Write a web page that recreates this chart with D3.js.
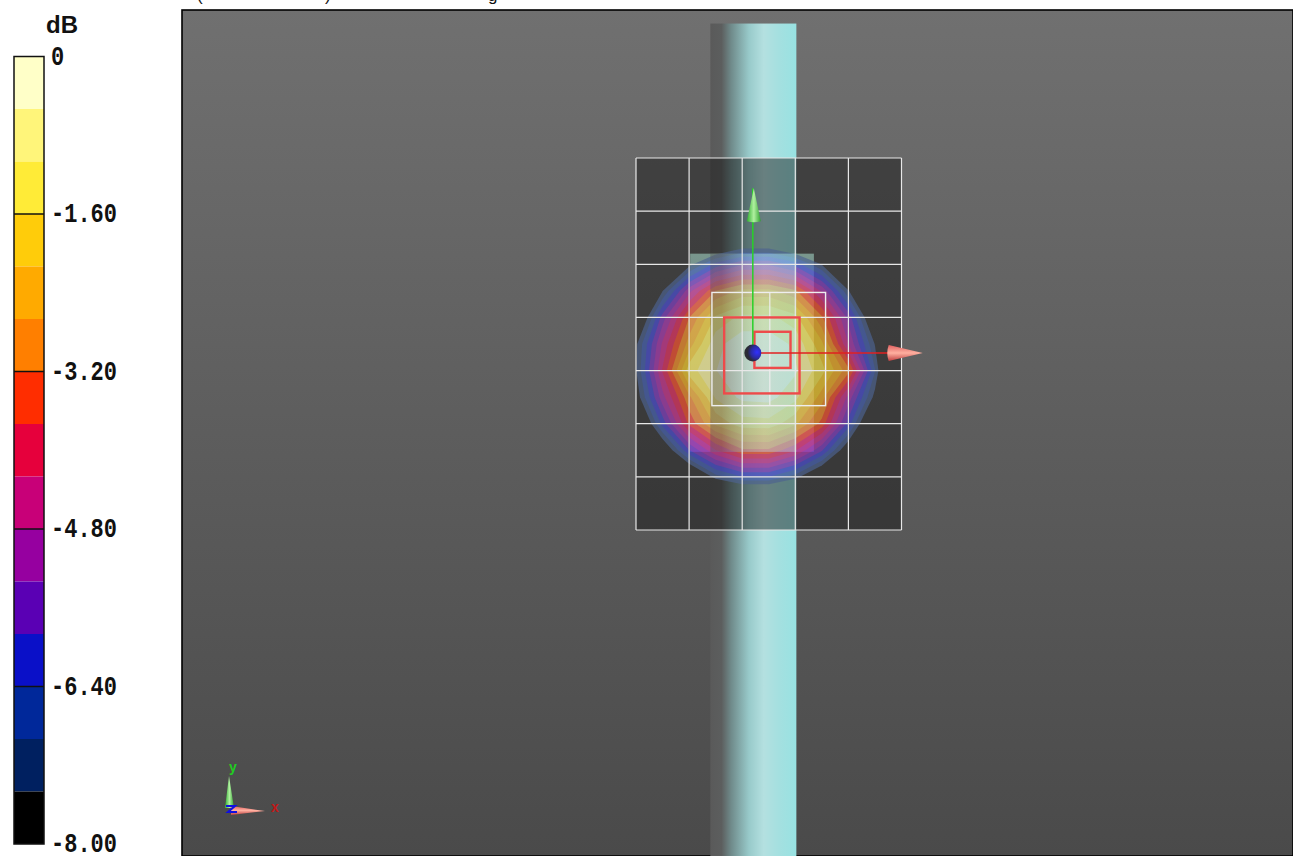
<!DOCTYPE html>
<html>
<head>
<meta charset="utf-8">
<script src="https://cdn.jsdelivr.net/npm/d3@7"></script>
<style>
  html, body { margin: 0; padding: 0; background: #fff; overflow: hidden; }
</style>
</head>
<body>
<div id="chart"></div>
<script>
// colour bar
const bandColors = ["#ffffc8", "#fff57a", "#ffeb37", "#ffcc0a", "#ffaa00", "#ff7f00", "#ff2d00", "#e6003c",
    "#c80078", "#9600a0", "#5a00b4", "#0a10c8", "#00289a", "#002060", "#000000"];
const tickValues = [0, -1.6, -3.2, -4.8, -6.4, -8];
const tickLabels = ["0", "-1.60", "-3.20", "-4.80", "-6.40", "-8.00"];

// what is left of the title line, cut by the top of the picture
const titleGlyphs = ["(", ")", "g"];
const titleGlyphX = [197, 325, 488];

// dB at every half grid cell, rows top to bottom
const fieldRows = [
    [-16, -16, -16, -16, -16, -16, -16, -16, -16, -16, -16],
    [-16, -16, -16, -16, -15.8, -15.8, -16, -16, -16, -16, -16],
    [-15.6, -14.6, -13.9, -13, -12.6, -12.5, -13, -13.8, -14.6, -15.6, -16],
    [-14.4, -12.6, -11, -9.6, -8.9, -8.9, -9.6, -10.9, -12.6, -14.3, -15.4],
    [-12.6, -10.2, -7.7, -6.2, -5.4, -5.4, -6.1, -7.5, -10.2, -12.5, -14.2],
    [-10.6, -7.5, -5, -3.2, -2.5, -2.5, -3.1, -4.9, -7.4, -10.5, -13.2],
    [-8.9, -5.6, -3.2, -1.5, -0.9, -0.9, -1.4, -3.1, -5.5, -8.7, -12],
    [-7.6, -4.7, -2.4, -0.7, -0.2, -0.2, -0.65, -2, -4.8, -7.5, -11.4],
    [-7.5, -4.2, -1.3, -0.55, -0.1, -0.1, -0.45, -1.4, -3, -6.9, -11.2],
    [-7.9, -5, -2.8, -1, -0.4, -0.35, -0.9, -2.4, -5, -7.7, -11.5],
    [-9.2, -6.2, -3.6, -2, -1.3, -1.25, -2, -3.4, -6.1, -9.3, -12.5],
    [-11.4, -8.4, -5.9, -4.3, -3.3, -3.3, -4.2, -5.8, -8.2, -11.3, -13.9],
    [-13.2, -11.2, -9, -7.2, -6.4, -6.4, -7.2, -8.7, -10.9, -13, -14.8],
    [-14.9, -13.7, -12, -11, -10.3, -10.3, -10.9, -12, -13.6, -14.8, -16],
    [-16, -15.4, -14.4, -13.9, -13.5, -13.4, -13.8, -14.3, -15.2, -16, -16]
];

// scan layout in grid cells, origin at top left of the coarse grid
const coarseX = [0, 1, 2, 3, 4, 5];
const coarseY = [0, 1, 2, 3, 4, 5, 6, 7];
const zoomBoxX = [1.43, 3.57];
const zoomBoxY = [2.53, 4.66];
const zoomMidX = [2.52];
const redBoxes = [
    { x0: 1.66, x1: 3.08, y0: 3.0, y1: 4.43 },
    { x0: 2.23, x1: 2.91, y0: 3.27, y1: 3.95 }
];
const surfaceX = [1.02, 3.35];
const surfaceY = [1.8, 5.53];
const cylinderX = [1.4, 3.02];
const cylinderY = [-2.53, 13.3];
const originPoint = [2.2, 3.67];
const greenTip = 3.67 - 3.1;
const redTip = 2.2 + 3.2;

const width = 1293;
const height = 856;

const svg = d3.select("#chart").append("svg")
    .attr("width", width)
    .attr("height", height)
    .style("display", "block")
    .style("font-family", "'Liberation Sans', Arial, sans-serif");

const defs = svg.append("defs");

const bg = defs.append("linearGradient").attr("id", "bg").attr("x1", 0).attr("x2", 0).attr("y1", 0).attr("y2", 1);
bg.append("stop").attr("offset", 0).attr("stop-color", "#707070");
bg.append("stop").attr("offset", 1).attr("stop-color", "#4a4a4a");

const cyl = defs.append("linearGradient").attr("id", "cyl");
[[0, "#5a5a5a"], [0.13, "#5c5e5e"], [0.24, "#6f8a8a"], [0.45, "#98caca"], [0.62, "#b4e0e0"], [0.8, "#a4e0e0"], [1, "#98e2e2"]]
    .forEach(([o, c]) => cyl.append("stop").attr("offset", o).attr("stop-color", c));

const surf = defs.append("linearGradient").attr("id", "surf").attr("x1", 0).attr("x2", 0).attr("y1", 0).attr("y2", 1);
surf.append("stop").attr("offset", 0).attr("stop-color", "#b4f0dc").attr("stop-opacity", 0.5);
surf.append("stop").attr("offset", 1).attr("stop-color", "#8c78ff").attr("stop-opacity", 0.5);

const cone = defs.append("linearGradient").attr("id", "coneRed").attr("x1", 0).attr("x2", 0).attr("y1", 0).attr("y2", 1);
cone.append("stop").attr("offset", 0).attr("stop-color", "#e06060");
cone.append("stop").attr("offset", 0.5).attr("stop-color", "#ffb0a0");
cone.append("stop").attr("offset", 1).attr("stop-color", "#c04040");

const coneG = defs.append("linearGradient").attr("id", "coneGreen");
coneG.append("stop").attr("offset", 0).attr("stop-color", "#30b030");
coneG.append("stop").attr("offset", 0.5).attr("stop-color", "#b0f0a0");
coneG.append("stop").attr("offset", 1).attr("stop-color", "#30a030");

const ball = defs.append("radialGradient").attr("id", "ball").attr("cx", 0.75).attr("cy", 0.45).attr("r", 0.8);
ball.append("stop").attr("offset", 0).attr("stop-color", "#3030ff");
ball.append("stop").attr("offset", 0.45).attr("stop-color", "#2a2aa0");
ball.append("stop").attr("offset", 0.7).attr("stop-color", "#2a2a38");
ball.append("stop").attr("offset", 1).attr("stop-color", "#303030");

// colour bar scale
const barScale = d3.scaleLinear().domain([0, -8]).range([56.5, 844]);
const bandStep = 8 / bandColors.length;
const bar = svg.append("g");

bar.selectAll("rect.band")
    .data(bandColors)
    .enter()
    .append("rect")
    .attr("class", "band")
    .attr("x", 14)
    .attr("width", 30)
    .attr("y", (d, i) => barScale(-i * bandStep))
    .attr("height", (d, i) => barScale(-(i + 1) * bandStep) - barScale(-i * bandStep))
    .attr("fill", (d) => d);

bar.append("rect")
    .attr("x", 14).attr("y", barScale(0))
    .attr("width", 30).attr("height", barScale(-8) - barScale(0))
    .attr("fill", "none").attr("stroke", "#111").attr("stroke-width", 1.5);

bar.selectAll("line.tick")
    .data(tickValues.slice(1, -1))
    .enter()
    .append("line")
    .attr("class", "tick")
    .attr("x1", 14).attr("x2", 44)
    .attr("y1", (d) => barScale(d)).attr("y2", (d) => barScale(d))
    .attr("stroke", "#111").attr("stroke-width", 1.5);

// tall narrow labels: mono bold stretched vertically
bar.selectAll("text.tick")
    .data(tickValues)
    .enter()
    .append("text")
    .attr("class", "tick")
    .attr("transform", (d) => `translate(51,${barScale(d) + 8}) scale(1,1.28)`)
    .attr("font-family", "'Liberation Mono', monospace")
    .attr("font-size", 22)
    .attr("font-weight", "bold")
    .attr("fill", "#111")
    .text((d, i) => tickLabels[i]);

bar.append("text")
    .attr("x", 46).attr("y", 33)
    .attr("font-size", 24).attr("font-weight", "bold").attr("fill", "#111")
    .text("dB");

svg.selectAll("text.title")
    .data(titleGlyphs)
    .enter()
    .append("text")
    .attr("class", "title")
    .attr("x", (d, i) => titleGlyphX[i])
    .attr("y", 1)
    .attr("font-size", 17)
    .attr("fill", "#111")
    .text((d) => d);

// plot area
svg.append("rect")
    .attr("x", 182).attr("y", 10)
    .attr("width", width - 182).attr("height", height - 10)
    .attr("fill", "url(#bg)").attr("stroke", "#000").attr("stroke-width", 1.6);

const x = d3.scaleLinear().domain([0, 5]).range([636, 901.5]);
const y = d3.scaleLinear().domain([0, 7]).range([158, 530]);

svg.append("rect")
    .attr("x", x(cylinderX[0])).attr("width", x(cylinderX[1]) - x(cylinderX[0]))
    .attr("y", y(cylinderY[0])).attr("height", y(cylinderY[1]) - y(cylinderY[0]))
    .attr("fill", "url(#cyl)");

// dark coarse scan area
svg.append("rect")
    .attr("x", x(0)).attr("y", y(0))
    .attr("width", x(5) - x(0)).attr("height", y(7) - y(0))
    .attr("fill", "#141414").attr("opacity", 0.47);

svg.append("rect")
    .attr("x", x(surfaceX[0])).attr("width", x(surfaceX[1]) - x(surfaceX[0]))
    .attr("y", y(surfaceY[0])).attr("height", y(surfaceY[1]) - y(surfaceY[0]))
    .attr("fill", "url(#surf)");

// field contours, each band opaque inside a translucent group
const nx = fieldRows[0].length;
const ny = fieldRows.length;
const thresholds = d3.range(bandColors.length - 1).map((i) => -(bandColors.length - 1 - i) * bandStep);
const contours = d3.contours().size([nx, ny]).thresholds(thresholds)(fieldRows.flat());
const xi = d3.scaleLinear().domain([0.5, nx - 0.5]).range([x(0), x(5)]);
const yi = d3.scaleLinear().domain([0.5, ny - 0.5]).range([y(0), y(7)]);
const path = d3.geoPath(d3.geoTransform({
    point: function (px, py) { this.stream.point(xi(px), yi(py)); }
}));
const lighten = d3.scaleLinear().domain([0, contours.length - 1]).range([0.3, 0.1]);

svg.append("g")
    .attr("opacity", 0.68)
    .selectAll("path")
    .data(contours)
    .enter()
    .append("path")
    .attr("d", path)
    .attr("fill", (d, i) => d3.interpolateRgb(bandColors[bandColors.length - 2 - i], "#fff")(lighten(i)));

// cylinder showing through the measured surface
svg.append("rect")
    .attr("x", x(cylinderX[0])).attr("width", x(cylinderX[1]) - x(cylinderX[0]))
    .attr("y", y(surfaceY[0])).attr("height", y(surfaceY[1]) - y(surfaceY[0]))
    .attr("fill", "url(#cyl)").attr("opacity", 0.42);

// grid lines
const grid = svg.append("g").attr("stroke", "#e8e8e8").attr("stroke-width", 1.2);
grid.selectAll("line.v").data(coarseX).enter().append("line")
    .attr("x1", (d) => x(d)).attr("x2", (d) => x(d)).attr("y1", y(0)).attr("y2", y(7));
grid.selectAll("line.h").data(coarseY).enter().append("line")
    .attr("y1", (d) => y(d)).attr("y2", (d) => y(d)).attr("x1", x(0)).attr("x2", x(5));

// zoom scan box
svg.append("rect")
    .attr("x", x(zoomBoxX[0])).attr("width", x(zoomBoxX[1]) - x(zoomBoxX[0]))
    .attr("y", y(zoomBoxY[0])).attr("height", y(zoomBoxY[1]) - y(zoomBoxY[0]))
    .attr("fill", "none").attr("stroke", "#eee").attr("stroke-width", 1.4);
svg.selectAll("line.mid").data(zoomMidX).enter().append("line")
    .attr("class", "mid")
    .attr("x1", (d) => x(d)).attr("x2", (d) => x(d))
    .attr("y1", y(zoomBoxY[0])).attr("y2", y(zoomBoxY[1]))
    .attr("stroke", "#eee").attr("stroke-width", 1.2);

svg.selectAll("rect.red").data(redBoxes).enter().append("rect")
    .attr("class", "red")
    .attr("x", (d) => x(d.x0)).attr("width", (d) => x(d.x1) - x(d.x0))
    .attr("y", (d) => y(d.y0)).attr("height", (d) => y(d.y1) - y(d.y0))
    .attr("fill", "none").attr("stroke", "#ee4a4a").attr("stroke-width", 2.4);

// probe axes
const ox = x(originPoint[0]);
const oy = y(originPoint[1]);
svg.append("line").attr("x1", ox).attr("x2", ox).attr("y1", oy).attr("y2", y(greenTip))
    .attr("stroke", "#28d028").attr("stroke-width", 1.5);
svg.append("line").attr("x1", ox).attr("x2", x(redTip) - 20).attr("y1", oy).attr("y2", oy)
    .attr("stroke", "#e02020").attr("stroke-width", 1.5);
svg.append("path")
    .attr("d", `M${x(redTip)},${oy} L${x(redTip) - 34},${oy - 8} Q${x(redTip) - 37},${oy} ${x(redTip) - 34},${oy + 8} Z`)
    .attr("fill", "url(#coneRed)");
svg.append("path")
    .attr("d", `M${ox + 1},${y(greenTip)} L${ox - 6},${y(greenTip) + 33} Q${ox + 1},${y(greenTip) + 35} ${ox + 8},${y(greenTip) + 33} Z`)
    .attr("fill", "url(#coneGreen)");
svg.append("circle").attr("cx", ox).attr("cy", oy).attr("r", 8.5).attr("fill", "url(#ball)");

// little orientation triad
const triad = svg.append("g");
triad.append("path").attr("d", "M229,776 L225,808 L234,808 Z").attr("fill", "url(#coneGreen)");
triad.append("path").attr("d", "M265,811 L231,806 L231,815 Z").attr("fill", "url(#coneRed)");
triad.append("path").attr("d", "M226,806 h9 l-7,6 h9").attr("fill", "none").attr("stroke", "#1010e0").attr("stroke-width", 2);
triad.append("text").attr("x", 233).attr("y", 772).attr("text-anchor", "middle")
    .attr("font-size", 14).attr("font-weight", "bold").attr("fill", "#22cc22").text("y");
triad.append("text").attr("x", 275).attr("y", 812).attr("text-anchor", "middle")
    .attr("font-size", 14).attr("font-weight", "bold").attr("fill", "#c01818").text("x");
</script>
</body>
</html>
